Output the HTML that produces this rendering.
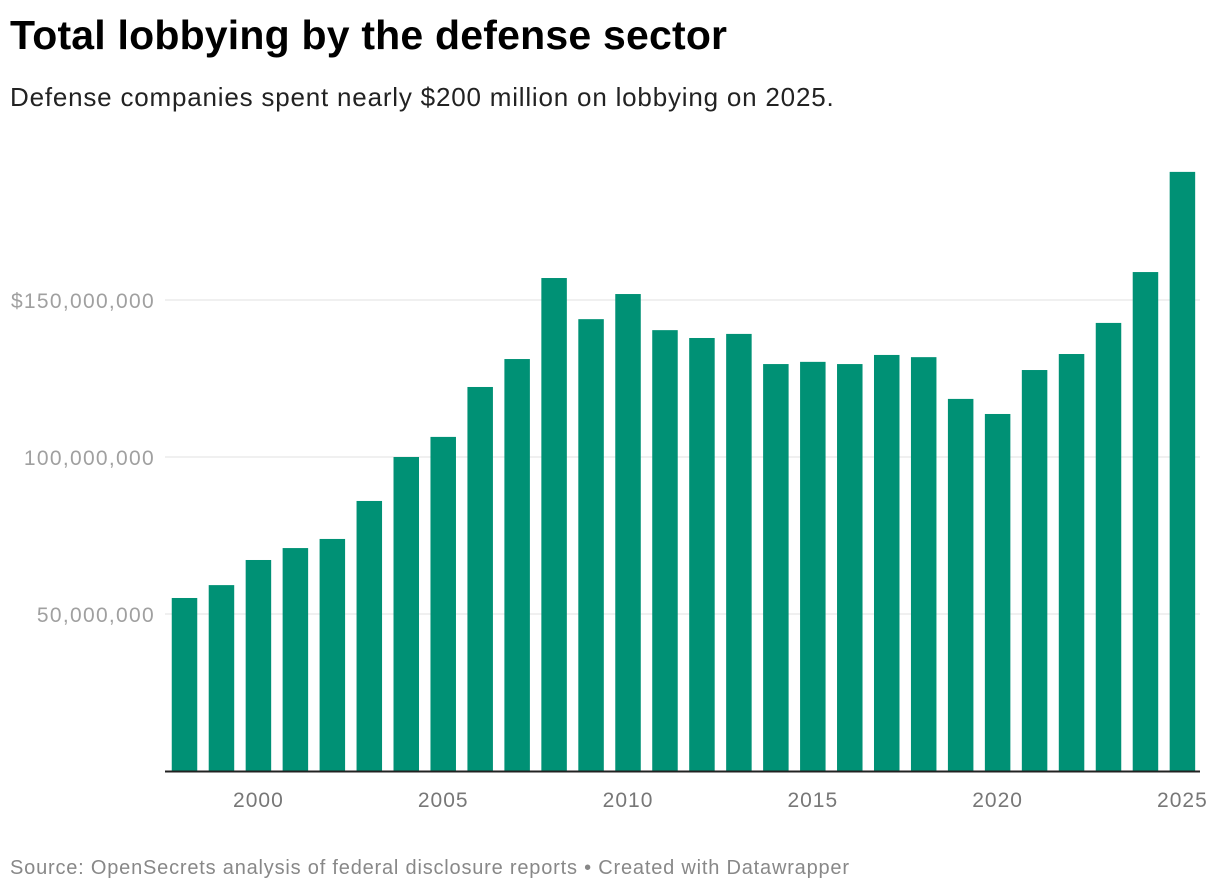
<!DOCTYPE html>
<html><head><meta charset="utf-8">
<style>
body{margin:0;background:#fff;font-family:"Liberation Sans",Arial,sans-serif;width:1220px;height:894px;overflow:hidden;position:relative}
#title{position:absolute;left:10px;top:12px;font-size:41px;font-weight:bold;color:#000;margin:0;letter-spacing:0.2px}
#sub{position:absolute;left:10px;top:82px;font-size:26px;color:#222;letter-spacing:0.8px}
#src{position:absolute;left:10px;top:857px;font-size:20px;color:#888;letter-spacing:0.8px}
svg{position:absolute;left:0;top:0}
</style></head><body>
<h1 id="title">Total lobbying by the defense sector</h1>
<div id="sub">Defense companies spent nearly $200 million on lobbying on 2025.</div>
<svg id="chart" width="1220" height="894"></svg>
<div id="src">Source: OpenSecrets analysis of federal disclosure reports • Created with Datawrapper</div>
<script>
const years=[1998,1999,2000,2001,2002,2003,2004,2005,2006,2007,2008,2009,2010,2011,2012,2013,2014,2015,2016,2017,2018,2019,2020,2021,2022,2023,2024,2025];
const values=[55.1,59.2,67.2,71.0,73.9,86.0,100.0,106.4,122.3,131.2,157.0,143.9,151.9,140.4,137.9,139.2,129.6,130.3,129.6,132.5,131.8,118.5,113.7,127.7,132.8,142.7,158.9,190.8];
const yTicks=[50,100,150];
const yTickLabels=["50,000,000","100,000,000","$150,000,000"];
const xTicks=[2000,2005,2010,2015,2020,2025];
const NS="http://www.w3.org/2000/svg";
const svg=document.getElementById('chart');
const y0=771,pxPerM=3.14;
const y=v=>y0-v*pxPerM;
const step=36.96,bw=25.5;
const xc=yr=>184.5+(yr-1998)*step;
function mk(t,a){const e=document.createElementNS(NS,t);for(const k in a)e.setAttribute(k,a[k]);svg.appendChild(e);return e;}
yTicks.forEach((t,i)=>{
  const g=mk('line',{x1:165,x2:1200,y1:y(t),y2:y(t),stroke:'#e2e2e2','stroke-width':1});
  
  
  const l=mk('text',{x:155,y:y(t)+8,'text-anchor':'end','font-size':21,'letter-spacing':1.3,fill:'#a0a0a0','font-family':'Liberation Sans, Arial, sans-serif'});
  l.textContent=yTickLabels[i];
  
  
});
years.forEach((yr,i)=>{
  const r=mk('rect',{x:xc(yr)-bw/2,y:y(values[i]),width:bw,height:values[i]*pxPerM,fill:'#009175'});
  
  
});
const ax=mk('line',{x1:165,x2:1200,y1:y0+0.5,y2:y0+0.5,stroke:'#222','stroke-width':2});


xTicks.forEach(t=>{
  const l=mk('text',{x:xc(t),y:807,'text-anchor':'middle','font-size':21,'letter-spacing':1,fill:'#777','font-family':'Liberation Sans, Arial, sans-serif'});
  l.textContent=t;
  
  
});
</script>
</body></html>
